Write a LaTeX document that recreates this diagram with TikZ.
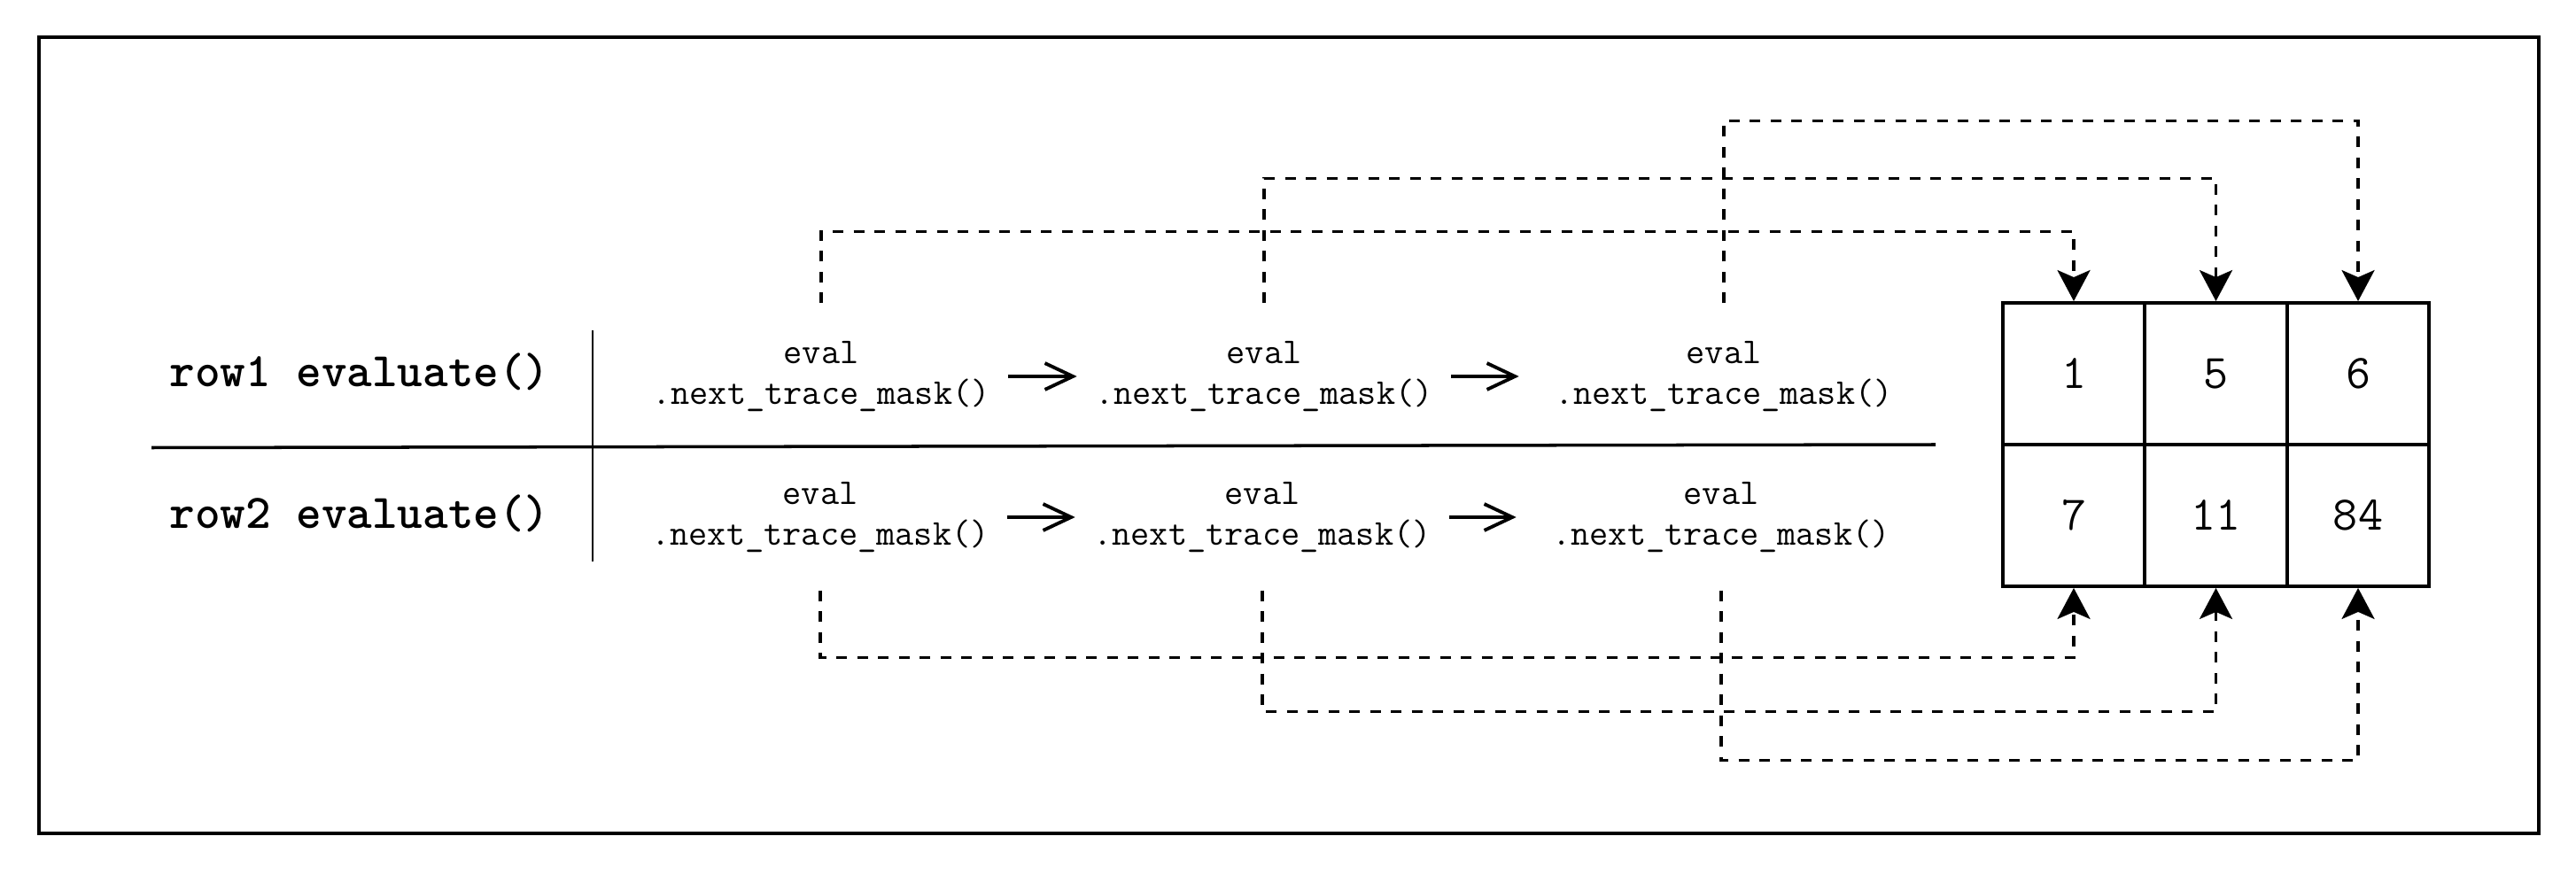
\documentclass[tikz,border=0pt]{standalone}
\usepackage{tikz}
\usetikzlibrary{arrows.meta}
\pgfdeclarelayer{edgelayer}
\pgfdeclarelayer{nodelayer}
\pgfsetlayers{edgelayer,nodelayer,main}
\tikzstyle{rowlabel}=[font=\ttfamily\bfseries\fontsize{15.5}{18}\selectfont, inner sep=0pt]
\tikzstyle{call}=[align=center, font=\ttfamily\fontsize{11.7}{13.1}\selectfont, minimum height=1.64cm, inner xsep=0.2cm, inner ysep=0pt]
\tikzstyle{cell}=[draw=black, line width=1.1pt, minimum width=1.605cm, minimum height=1.6cm, inner sep=0pt, font=\ttfamily\fontsize{15.5}{18}\selectfont]
\tikzstyle{nextarrow}=[-{Straight Barb[length=9pt,width=8.5pt]}, line width=1.1pt]
\tikzstyle{maskline}=[dash pattern=on 0.12cm off 0.115cm, line width=1pt, -{Stealth[length=0.35cm,width=0.37cm,inset=0.08cm]}]

\begin{document}
\begin{tikzpicture}
        \useasboundingbox (0,0) rectangle (29.08,-9.88);
        \draw [line width=1.1pt] (0.44,-0.42) rectangle (28.66,-9.41);

        \begin{pgfonlayer}{nodelayer}
            \node [style = rowlabel] (row1) at (4.06,-4.20) {row1 evaluate()};
            \node [style = rowlabel] (row2) at (4.06,-5.80) {row2 evaluate()};

            \node [style = call] (c11) at (9.27,-4.25) {eval\\.next\_trace\_mask()};
            \node [style = call] (c12) at (14.27,-4.25) {eval\\.next\_trace\_mask()};
            \node [style = call] (c13) at (19.46,-4.25) {eval\\.next\_trace\_mask()};

            \node [style = call] (c21) at (9.26,-5.84) {eval\\.next\_trace\_mask()};
            \node [style = call] (c22) at (14.25,-5.84) {eval\\.next\_trace\_mask()};
            \node [style = call] (c23) at (19.43,-5.84) {eval\\.next\_trace\_mask()};

            \node [style = cell] (g11) at (23.41,-4.22) {1};
            \node [style = cell] (g12) at (25.015,-4.22) {5};
            \node [style = cell] (g13) at (26.62,-4.22) {6};
            \node [style = cell] (g21) at (23.41,-5.82) {7};
            \node [style = cell] (g22) at (25.015,-5.82) {11};
            \node [style = cell] (g23) at (26.62,-5.82) {84};

            \coordinate (vtop) at (6.69,-3.73);
            \coordinate (vbot) at (6.69,-6.34);
            \coordinate (hleft) at (1.71,-5.055);
            \coordinate (hright) at (21.85,-5.02);
        \end{pgfonlayer}

        \begin{pgfonlayer}{edgelayer}
            \draw [line width=0.8pt] (vtop) to (vbot);
            \draw [line width=1pt] (hleft) to (hright);

            \draw [style = nextarrow] (c11) to (c12);
            \draw [style = nextarrow, shorten >=0.2cm] (c12) to (c13);
            \draw [style = nextarrow] (c21) to (c22);
            \draw [style = nextarrow, shorten >=0.2cm] (c22) to (c23);

            \draw [style = maskline] (c11.north) -- ++(0,0.81) -| (g11.north);
            \draw [style = maskline] (c12.north) -- ++(0,1.41) -| (g12.north);
            \draw [style = maskline] (c13.north) -- ++(0,2.06) -| (g13.north);

            \draw [style = maskline] (c21.south) -- ++(0,-0.76) -| (g21.south);
            \draw [style = maskline] (c22.south) -- ++(0,-1.37) -| (g22.south);
            \draw [style = maskline] (c23.south) -- ++(0,-1.92) -| (g23.south);
        \end{pgfonlayer}
    \end{tikzpicture}
\end{document}
